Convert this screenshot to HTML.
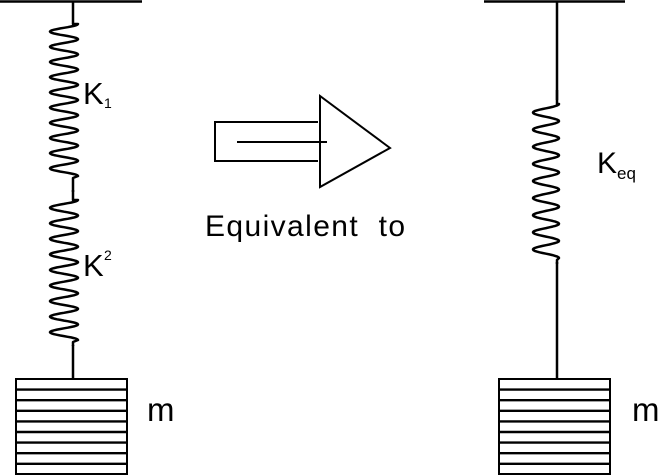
<!DOCTYPE html>
<html><head><style>
body{margin:0;background:#fff;width:659px;height:476px;overflow:hidden}
svg{display:block}
text{font-family:"Liberation Sans",Arial,sans-serif;fill:#000}
</style></head><body>
<svg width="659" height="476" viewBox="0 0 659 476" xmlns="http://www.w3.org/2000/svg">
<g stroke="#000" fill="none" stroke-width="2.5">
<line x1="0" y1="1.5" x2="142" y2="1.5"/>
<line x1="484" y1="1.5" x2="625" y2="1.5"/>
<polyline id="s1" stroke-width="2.5" stroke-linejoin="round"/>
<polyline id="s2" stroke-width="2.5" stroke-linejoin="round"/>
<polyline id="s3" stroke-width="2.5" stroke-linejoin="round"/>
<line x1="557" y1="2" x2="557" y2="100"/>
<line x1="557" y1="262" x2="557" y2="379"/>
<line x1="73" y1="345" x2="73" y2="379"/>
</g>
<g stroke="#000" fill="none" stroke-width="2">
<rect x="16" y="379" width="111" height="95"/>
<rect x="499" y="379" width="111" height="95"/>
<g id="stripes" stroke-width="2.4"></g>
<polyline points="318,122 215,122 215,161 318,161"/>
<line x1="237" y1="142" x2="327" y2="142"/>
<polygon points="320,96 320,187 390,148"/>
</g>
<text x="83" y="104" font-size="31">K</text><text x="104" y="108" font-size="14">1</text>
<text x="83" y="276" font-size="31">K</text><text x="104" y="260" font-size="14">2</text>
<text x="597" y="173" font-size="30">K</text><text x="617" y="179" font-size="17">eq</text>
<text x="147" y="421" font-size="33">m</text>
<text x="632" y="421" font-size="33">m</text>
<text x="205" y="236" font-size="30" textLength="200" lengthAdjust="spacing">Equivalent&#160; to</text>
</svg>
<script>
function spring(x,ytop,y0,y1,n,left,right,ybot){
  var pts=[[x,ytop],[x,y0]];
  var c=(left+right)/2,a=(right-left)/2,N=n*24;
  for(var i=0;i<=N;i++){
    var t=i/N, y=y0+t*(y1-y0);
    var ph=t*n*2*Math.PI;
    var xx=c+a*Math.cos(ph);
    pts.push([xx,y]);
  }
  pts.push([x,y1+2]);pts.push([x,ybot]);
  return pts.map(function(p){return p[0].toFixed(1)+","+p[1].toFixed(1)}).join(" ");
}
document.getElementById('s1').setAttribute('points',spring(73,2,24,176,10,50,78,192));
document.getElementById('s2').setAttribute('points',spring(73,190,200,340,9,50,78,346));
document.getElementById('s3').setAttribute('points',spring(557,90,104,258,9,533,559,264));
var g=document.getElementById('stripes'),ns="http://www.w3.org/2000/svg";
[[16,127],[499,610]].forEach(function(b){
  for(var i=1;i<9;i++){var y=379+i*10.6;var l=document.createElementNS(ns,'line');
  l.setAttribute('x1',b[0]);l.setAttribute('x2',b[1]);l.setAttribute('y1',y);l.setAttribute('y2',y);g.appendChild(l);}
});
</script>
</body></html>
